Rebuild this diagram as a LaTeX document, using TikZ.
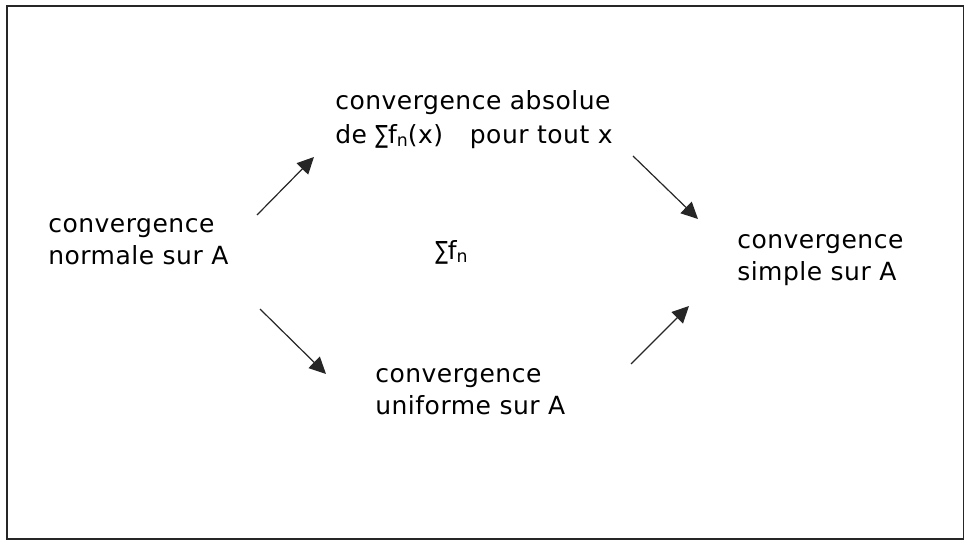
\documentclass[tikz,border=0pt]{standalone}
\usepackage{fontspec}
\setmainfont{DejaVu Sans}[LetterSpace=2]
\usetikzlibrary{arrows.meta}
\newcommand{\mysum}{\scalebox{0.75}[1]{∑}}
\newcommand{\myfn}{f\raisebox{-2.25pt}{\fontsize{13pt}{13pt}\selectfont n}}
\tikzset{
  lbl/.style={anchor=base west, inner sep=0pt, align=left,
    font=\fontsize{18.75pt}{24pt}\selectfont},
  arr/.style={line width=0.9pt, draw=black!85,
    -{Triangle[length=12.5pt,width=12pt]}},
  frame/.style={line width=1.2pt, draw=black!85}
}
\begin{document}
\begin{tikzpicture}[x=0.75pt,y=-0.75pt]
\useasboundingbox (0,0) rectangle (964,542);
\draw[frame] (7,6) rectangle (963.5,539);
\node[lbl, font=\fontsize{18.75pt}{25.5pt}\selectfont] (abs) at (335,143)
  {convergence absolue\\de \mysum\myfn(x)\hspace{20pt}pour tout x};
\node[lbl] (norm) at (48,264) {convergence\\normale sur A};
\node[lbl] (simp) at (737,280) {convergence\\simple sur A};
\node[lbl] (unif) at (375,414) {convergence\\uniforme sur A};
\node[lbl] (sum) at (435,259) {\mysum\myfn};
\coordinate (n1) at (257,215);
\coordinate (a1) at (314,157);
\coordinate (a2) at (633,156);
\coordinate (s1) at (698,219);
\coordinate (n2) at (260,309);
\coordinate (u1) at (326,374);
\coordinate (u2) at (631,364);
\coordinate (s2) at (689,306);
\draw[arr] (n1) -- (a1);
\draw[arr] (a2) -- (s1);
\draw[arr] (n2) -- (u1);
\draw[arr] (u2) -- (s2);
\end{tikzpicture}
\end{document}
